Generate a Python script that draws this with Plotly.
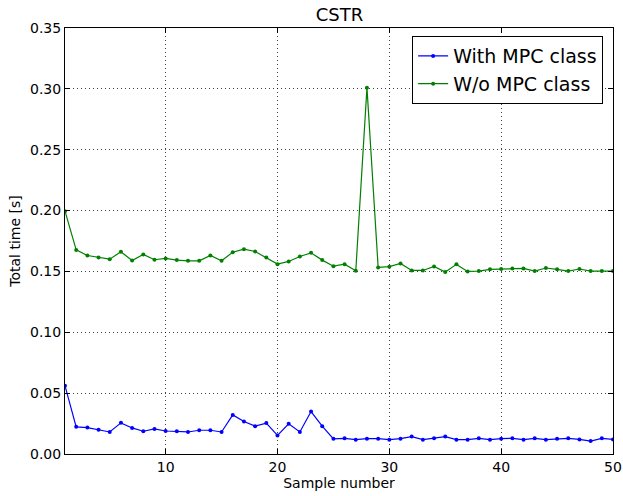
import plotly.graph_objects as go

samples = list(range(1, 51))
with_mpc = [0.056, 0.0223, 0.0217, 0.0200, 0.0181, 0.0256, 0.0214, 0.0187, 0.0206, 0.0189,
            0.0187, 0.0181, 0.0195, 0.0195, 0.0181, 0.0321, 0.0267, 0.0229, 0.0254, 0.0153,
            0.0248, 0.0181, 0.0349, 0.0229, 0.0125, 0.0129, 0.0118, 0.0126, 0.0126, 0.0118,
            0.0126, 0.0143, 0.0118, 0.0129, 0.0143, 0.0118, 0.0118, 0.0129, 0.0118, 0.0126,
            0.0129, 0.0118, 0.0129, 0.0118, 0.0126, 0.0129, 0.0120, 0.0106, 0.0129, 0.0120]
wo_mpc = [0.1995, 0.1677, 0.1631, 0.1615, 0.1601, 0.1661, 0.1590, 0.1640, 0.1596, 0.1607,
          0.1593, 0.1587, 0.1587, 0.1631, 0.1587, 0.1658, 0.1683, 0.1664, 0.1615, 0.1560,
          0.1582, 0.1623, 0.1653, 0.1593, 0.1543, 0.1559, 0.1505, 0.3010, 0.1533, 0.1539,
          0.1566, 0.1508, 0.1508, 0.1541, 0.1495, 0.1558, 0.1500, 0.1503, 0.1517, 0.1520,
          0.1525, 0.1525, 0.1503, 0.1528, 0.1517, 0.1503, 0.1520, 0.1503, 0.1503, 0.1503]
x_ticks = [10, 20, 30, 40, 50]
y_ticks = [0.00, 0.05, 0.10, 0.15, 0.20, 0.25, 0.30, 0.35]

fig = go.Figure()
fig.add_trace(go.Scatter(x=samples, y=with_mpc, mode="lines+markers", name="With MPC class",
                         line=dict(color="#0000ff", width=1.2), marker=dict(size=4, color="#0000ff")))
fig.add_trace(go.Scatter(x=samples, y=wo_mpc, mode="lines+markers", name="W/o MPC class",
                         line=dict(color="#008000", width=1.2), marker=dict(size=4, color="#008000")))

font = "DejaVu Sans, Liberation Sans, sans-serif"
axis_common = dict(showline=True, linecolor="black", linewidth=1, mirror="ticks",
                   ticks="inside", ticklen=5, tickcolor="black", showgrid=True,
                   gridcolor="rgba(0,0,0,0.75)", gridwidth=0.8, griddash="1px,3px", zeroline=False,
                   automargin=False,
                   tickfont=dict(size=14, color="black", family=font))
fig.update_xaxes(range=[1, 50], tickvals=x_ticks,
                 title=dict(text="Sample number", font=dict(size=14, color="black", family=font), standoff=4),
                 **axis_common)
fig.update_yaxes(range=[0, 0.35], tickvals=y_ticks, tickformat=".2f",
                 title=dict(text="Total time [s]", font=dict(size=14, color="black", family=font), standoff=6),
                 **axis_common)

fig.update_layout(
    width=623, height=496,
    margin=dict(l=65, r=10, t=28, b=42),
    paper_bgcolor="white", plot_bgcolor="white",
    title=dict(text="CSTR", x=0.545, xanchor="center", y=0.97, yanchor="middle",
               font=dict(size=18, color="black", family=font)),
    font=dict(family=font, color="black"),
    legend=dict(x=0.982, y=0.981, xanchor="right", yanchor="top",
                bgcolor="white", bordercolor="black", borderwidth=1,
                font=dict(size=19, color="black", family=font), tracegroupgap=0),
    showlegend=True,
)

fig.write_html("out.html")
